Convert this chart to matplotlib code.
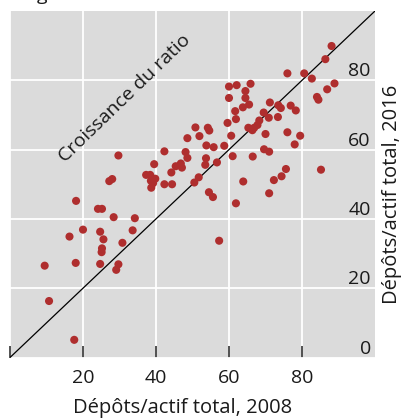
import matplotlib
matplotlib.use("Agg")
import matplotlib.pyplot as plt

# Dépôts/actif total, 2008 (x) and 2016 (y)
x2008 = [17.6, 10.7, 9.5, 18.0, 24.7, 29.7, 29.1, 25.1, 25.2, 30.8, 25.6, 24.7,
         16.3, 20.0, 33.6, 34.2, 28.4, 24.1, 25.2, 18.1, 27.2, 28.0, 29.7,
         42.3, 48.1, 48.6, 53.8, 55.8, 58.7, 53.7, 53.5, 56.7, 61.0, 66.5,
         39.5, 45.4, 46.8, 47.1, 44.2, 37.3, 38.4, 39.8, 38.6, 39.2, 38.7,
         42.3, 44.4, 50.5, 51.7, 54.5, 55.6, 63.9, 61.9, 57.3,
         50.8, 54.2, 54.6, 51.9, 48.6, 60.6, 59.6, 61.9, 61.7, 63.8, 65.5,
         64.5, 64.5, 60.0, 60.0, 62.1, 65.9, 65.3, 66.4, 66.9, 67.8, 68.3,
         69.5, 70.9, 73.4, 71.2, 73.5, 74.2, 76.9, 78.3, 70.0, 76.0, 79.5,
         78.0, 69.6, 71.0, 75.6, 74.4, 72.3, 71.0, 85.2, 76.0, 80.6, 82.7,
         84.1, 84.5, 86.9, 88.9, 86.4, 88.1]
y2016 = [5.1, 16.3, 26.5, 27.3, 27.0, 26.9, 25.3, 30.4, 31.5, 33.1, 34.1, 36.3,
         34.9, 36.9, 36.7, 40.2, 40.5, 42.9, 42.9, 45.2, 50.9, 51.5, 58.3,
         59.5, 59.3, 57.6, 61.2, 60.7, 61.1, 57.5, 55.6, 56.3, 58.1, 58.0,
         55.8, 55.2, 56.0, 54.8, 53.4, 52.7, 52.7, 51.6, 51.0, 50.3, 49.0,
         50.0, 50.0, 50.5, 52.0, 47.7, 46.3, 50.8, 44.5, 33.7,
         66.4, 66.3, 65.5, 63.9, 63.3, 64.0, 67.7, 68.8, 71.1, 72.2, 73.0,
         74.9, 76.9, 74.9, 78.2, 78.6, 79.0, 66.3, 65.6, 66.3, 67.1, 68.4,
         70.7, 69.2, 69.4, 73.6, 72.8, 72.0, 72.7, 71.3, 64.5, 65.0, 64.0,
         61.5, 60.1, 59.4, 54.4, 52.3, 51.2, 47.4, 54.2, 82.0, 82.0, 80.5,
         75.2, 74.4, 77.4, 79.1, 86.1, 89.9]

xticks = [0, 20, 40, 60, 80]
xticklabels = ["", "20", "40", "60", "80"]
yticks = [0, 20, 40, 60, 80]
yticklabels = ["0", "20", "40", "60", "80"]
xlabel = "Dépôts/actif total, 2008"
ylabel = "Dépôts/actif total, 2016"
annot = "Croissance du ratio"

plt.rcParams['font.family'] = ['Open Sans', 'DejaVu Sans']
FS = 14
FL = 14.5
TXT = '#1a1a1a'

fig = plt.figure(figsize=(4.01, 4.18), dpi=100)
W, H = 401, 418
ax = fig.add_axes([10 / W, (H - 357.5) / H, 365 / W, 346.5 / H])
ax.set_facecolor('#DBDBDB')
for s in ax.spines.values():
    s.set_visible(False)

ax.set_xlim(0, 100)
ax.set_ylim(0, 100)
ax.set_axisbelow(True)
ax.grid(True, color='white', linewidth=1.3)

ax.plot([0, 100], [0, 100], color='black', linewidth=0.9, zorder=2)
ax.scatter(x2008, y2016, s=34, color='#AF2E2E', edgecolors='none', zorder=3)

ax.set_xticks(xticks)
ax.set_xticklabels(xticklabels)
ax.tick_params(axis='x', direction='in', length=9, width=1.2, color='#333333',
               pad=8.5, labelsize=FS, labelcolor=TXT)

ax.set_yticks(yticks)
ax.set_yticklabels(yticklabels)
ax.yaxis.set_ticks_position('right')
ax.tick_params(axis='y', length=0, pad=-3, labelsize=FS, labelcolor=TXT,
               labelright=True, labelleft=False)
for lab in ax.get_yticklabels():
    lab.set_ha('right')
    lab.set_va('bottom')

ax.text(31.4, 74.8, annot, rotation=44, ha='center', va='center',
        fontsize=FS, color=TXT, rotation_mode='anchor')

fig.text(182.5 / W, (H - 408) / H, xlabel, ha='center', va='center',
         fontsize=FL, color=TXT)
fig.text(392 / W, (H - 194) / H, ylabel, ha='center', va='center',
         rotation=90, fontsize=FL, color=TXT)

# cut-off title descender at the very top
fig.text(37 / W, 1.0, "g", ha='left', va='baseline', fontsize=FS, color=TXT)

fig.savefig("out.png", dpi=100)
